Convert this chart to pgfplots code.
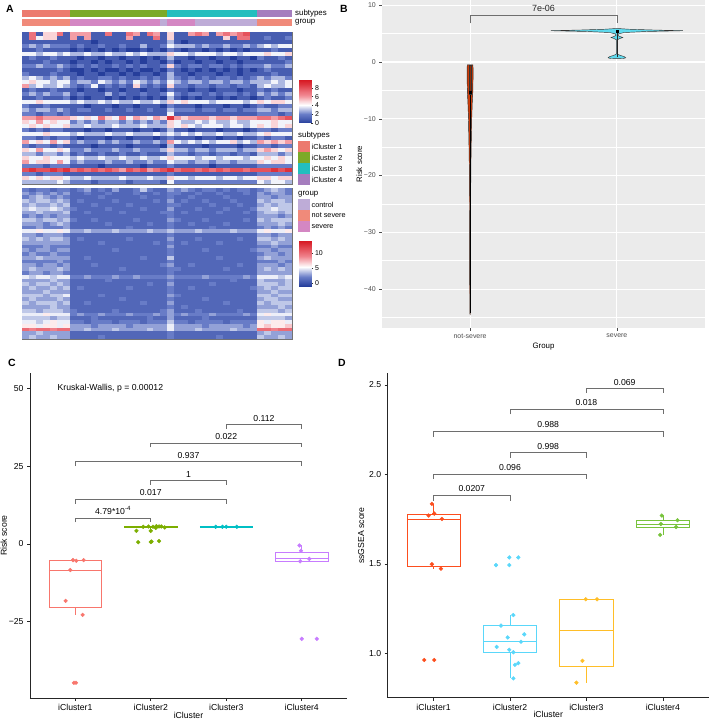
\documentclass[border=0pt]{standalone}
\usepackage{fontspec}
\setmainfont{Liberation Sans}
\usepackage{pgfplots}
\pgfplotsset{compat=1.18}
\usepgfplotslibrary{statistics}
\usepackage{pgfplotstable}

\definecolor{cA1}{RGB}{236,122,110}
\definecolor{cA2}{RGB}{124,170,40}
\definecolor{cA3}{RGB}{35,190,190}
\definecolor{cA4}{RGB}{165,125,190}
\definecolor{gCtrl}{RGB}{190,172,215}
\definecolor{gNot}{RGB}{240,138,122}
\definecolor{gSev}{RGB}{212,135,195}
\definecolor{ggbg}{RGB}{235,235,235}
\definecolor{ggtxt}{RGB}{77,77,77}
\definecolor{nsfill}{RGB}{205,60,10}
\definecolor{sfill}{RGB}{95,218,238}
\definecolor{cC1}{RGB}{248,118,109}
\definecolor{cC2}{RGB}{124,174,0}
\definecolor{cC3}{RGB}{0,191,196}
\definecolor{cC4}{RGB}{199,124,255}
\definecolor{cD1}{RGB}{252,78,30}
\definecolor{cD2}{RGB}{90,215,250}
\definecolor{cD3}{RGB}{255,190,40}
\definecolor{cD4}{RGB}{120,195,60}
\definecolor{brk}{RGB}{110,110,110}

\pgfplotsset{
  /pgf/number format/assume math mode=true,
  colormap={hm}{rgb255(0cm)=(38,62,155); rgb255(2cm)=(105,125,200); rgb255(4.2cm)=(255,255,255); rgb255(6.5cm)=(240,130,140); rgb255(9.8cm)=(215,25,35)}
}

\newcommand\fA{\fontsize{7.3}{8}\selectfont}
\newcommand\fT{\fontsize{7.9}{9}\selectfont}
\newcommand\fB{\fontsize{7}{8}\selectfont}
\newcommand\fC{\fontsize{8.7}{10}\selectfont}
\newcommand\fL{\fontsize{10.5}{12}\selectfont\bfseries}

\pgfdeclareplotmark{cellA}{\pgfpathrectangle{\pgfpoint{-3.55bp}{-2.08bp}}{\pgfpoint{7.1bp}{4.16bp}}\pgfusepathqfill}
\pgfdeclareplotmark{cellB}{\pgfpathrectangle{\pgfpoint{-3.55bp}{-1.95bp}}{\pgfpoint{7.1bp}{3.9bp}}\pgfusepathqfill}

\pgfplotstableread[header=false]{
1 7 1 5 5 7 1  6 6 6 1 1 7 1 1 7 6 1 7 6 1  5 1 1 6 7 6 1 6 7 6 7 8 1  1 1 1 1 1
1 7 4 5 5 1 1  6 1 6 1 1 1 1 1 6 1 1 1 7 1  5 1 1 1 1 1 1 1 5 1 7 7 1  1 2 1 1 2
1 1 1 1 1 1 1  1 1 1 0 1 1 1 1 1 1 1 1 1 1  3 1 0 1 1 1 1 1 1 1 1 1 1  1 1 1 1 1
2 3 2 3 2 2 2  1 2 1 1 2 1 1 2 1 1 3 1 1 2  4 3 3 3 2 3 2 2 3 2 2 3 2  3 4 3 4 4
1 1 2 1 1 1 1  0 1 0 1 0 1 0 1 0 0 1 0 1 0  2 1 0 1 1 0 1 0 1 0 1 0 1  1 1 2 1 1
4 4 3 4 4 3 4  3 3 4 3 3 4 3 3 4 3 4 3 3 3  5 4 4 3 4 4 4 3 4 4 3 4 4  4 5 4 4 5
1 2 1 1 2 1 1  1 0 1 1 0 1 1 0 1 1 0 1 0 1  3 1 1 0 1 1 0 1 1 0 1 1 0  2 1 1 2 1
1 1 1 2 1 1 1  0 1 1 0 1 0 1 1 0 1 0 1 1 0  2 0 1 1 0 1 1 0 1 1 0 1 1  1 1 1 1 2
2 2 3 2 2 3 2  1 2 1 2 1 1 2 1 2 1 2 1 1 2  5 2 1 2 2 1 2 2 1 2 1 2 2  2 3 2 2 3
1 1 1 1 1 2 1  0 0 1 0 1 0 0 1 0 1 0 0 1 0  2 1 0 1 0 1 0 1 0 1 0 1 0  1 2 1 1 1
2 1 1 1 2 1 1  1 0 1 1 0 1 1 0 1 0 1 1 0 1  3 1 1 0 1 1 1 0 1 1 0 1 1  1 1 2 1 1
3 4 3 2 3 2 3  1 2 1 1 2 2 1 2 1 1 2 1 2 1  3 2 1 2 1 2 1 2 2 1 2 1 2  3 2 3 3 2
4 5 4 4 3 4 4  2 3 3 2 4 3 2 3 2 4 3 2 3 2  4 3 2 3 3 2 3 3 2 3 3 2 3  3 3 4 3 4
6 3 4 3 3 4 3  2 1 2 4 1 2 1 2 1 5 2 1 2 1  5 2 2 1 2 2 1 2 2 1 2 2 1  3 4 3 3 4
1 2 1 1 2 1 1  1 0 1 1 0 1 1 0 1 1 0 1 1 0  2 1 1 0 1 1 0 1 1 1 0 1 1  2 1 2 1 1
2 3 2 3 2 2 3  1 2 1 1 1 3 1 2 1 1 2 1 1 2  4 2 1 2 2 1 2 1 2 2 1 2 1  3 2 3 2 3
1 1 2 1 1 1 2  0 1 0 1 1 0 1 0 1 0 1 0 1 0  3 1 0 1 0 1 1 0 1 0 1 1 0  1 2 1 1 2
4 4 5 4 4 4 4  3 4 3 3 4 3 4 3 3 4 3 3 4 3  5 4 5 4 4 4 3 4 4 4 4 3 4  5 4 5 5 4
2 1 1 2 1 1 1  1 1 0 1 1 1 0 1 1 0 1 1 1 0  2 1 1 1 0 1 1 1 0 1 1 0 1  2 1 1 2 2
3 2 3 3 2 3 2  1 2 2 1 1 2 1 1 2 1 1 2 1 1  3 2 2 2 1 2 2 1 2 2 1 2 2  3 3 2 3 3
2 2 1 2 2 1 2  1 1 1 1 1 1 1 1 1 1 1 1 1 1  4 1 1 1 1 1 1 1 1 1 1 1 1  2 2 2 1 2
6 6 7 6 6 6 6  5 4 5 4 7 5 4 7 4 6 5 4 6 5  9 6 5 6 6 6 5 6 6 5 6 6 6  7 7 6 7 8
5 4 6 4 5 4 4  2 3 2 3 2 3 3 2 3 2 3 2 3 2  5 4 3 3 4 3 4 3 3 4 3 3 4  4 4 5 4 4
4 5 4 5 4 4 5  3 3 4 3 3 3 4 3 3 3 4 3 3 3  5 4 5 4 3 4 4 4 3 4 4 3 4  5 4 5 4 5
2 1 2 1 2 2 1  1 1 0 1 1 0 1 1 1 0 1 1 0 1  3 1 1 0 1 1 1 0 1 1 1 0 1  2 2 1 2 2
4 4 4 5 4 4 4  3 4 3 3 3 4 3 3 4 3 3 3 4 3  4 3 4 3 4 3 3 4 3 3 4 3 3  4 5 4 4 4
2 2 1 2 1 2 2  1 0 1 1 1 0 1 1 0 1 1 1 0 1  2 1 1 1 0 1 1 0 1 1 0 1 1  2 1 2 2 1
6 4 5 4 6 4 5  2 3 2 2 3 2 3 2 2 3 2 2 3 2  6 4 3 4 3 4 3 4 4 5 3 4 3  6 5 6 5 6
2 1 2 2 1 2 1  1 1 1 0 1 1 1 1 0 1 1 1 1 0  3 1 1 1 1 0 1 1 1 1 0 1 1  2 2 1 2 2
5 4 6 4 4 5 4  2 2 3 2 2 2 3 2 2 3 2 2 2 3  5 3 3 2 3 3 2 3 3 3 2 3 3  5 6 5 4 5
3 3 2 3 3 2 3  1 2 1 1 2 1 1 2 1 1 2 1 1 1  3 2 2 1 2 2 1 2 2 1 2 2 1  3 3 3 2 3
5 4 4 5 4 4 4  3 4 3 3 4 3 3 4 3 3 4 3 3 4  5 4 4 4 3 4 4 3 4 4 4 3 4  4 5 4 5 4
6 4 5 5 4 6 4  2 3 2 2 2 3 2 2 3 2 2 3 2 2  4 3 3 2 3 3 2 3 3 2 3 3 3  5 4 5 5 4
2 2 2 1 2 2 2  1 1 1 1 0 1 1 1 1 1 0 1 1 1  2 1 1 1 1 1 0 1 1 1 1 1 1  2 2 2 2 2
8 9 8 8 9 8 9  7 8 7 8 7 8 7 6 8 7 8 6 7 8  9 7 8 8 7 8 7 8 7 8 8 7 8  8 8 9 8 9
2 2 1 2 2 2 1  1 1 1 1 1 1 1 1 1 1 1 1 1 1  2 1 1 1 1 1 1 1 1 1 1 1 1  2 2 2 2 2
5 4 5 4 5 5 4  3 3 4 3 3 3 3 4 3 3 3 4 3 3  5 4 4 3 4 4 4 3 4 4 3 4 4  5 5 4 5 5
3 3 3 3 3 4 3  2 2 2 1 2 2 2 2 1 2 2 2 2 1  4 2 2 2 2 2 2 2 2 2 2 2 2  4 3 4 4 3
}\topdata

\pgfplotstableread[header=false]{
2 1 2 2 1 2 2  1 2 3 1 2 1 3 1 1 2 4 2 1 1  3 2 3 2 1 2 2 1 2 1 2 2 1  2 3 4 3 2
3 2 3 2 3 2 3  1 1 2 1 1 2 1 1 1 2 1 1 2 1  2 2 1 1 2 1 1 2 1 1 1 2 1  3 2 3 3 2
2 3 4 3 2 3 2  1 1 1 1 2 1 1 1 1 1 2 1 1 1  2 1 1 2 1 1 1 1 2 1 1 1 1  3 3 2 3 3
4 3 4 4 3 4 3  1 2 1 1 1 1 2 1 1 1 1 1 2 1  3 1 2 1 1 2 1 1 1 2 1 1 1  4 3 4 4 3
3 4 3 3 4 3 4  1 1 1 2 1 1 1 1 2 1 1 1 1 1  2 2 1 1 1 1 2 1 1 1 2 1 1  3 4 3 4 4
4 5 4 4 5 4 3  2 1 1 1 1 2 1 1 1 1 2 1 1 1  3 1 1 1 2 1 1 1 2 1 1 1 2  4 4 5 4 4
3 3 4 3 3 3 4  1 1 2 1 1 1 1 2 1 1 1 1 1 2  2 1 2 1 1 1 1 2 1 1 1 2 1  3 4 4 3 4
2 3 2 3 2 3 3  1 1 1 1 1 1 1 1 1 1 1 1 1 1  2 1 1 1 1 1 1 1 1 1 1 1 1  3 3 3 2 3
4 4 3 4 4 3 4  2 1 1 2 1 1 1 1 1 2 1 1 1 1  3 2 1 1 1 2 1 1 1 1 1 2 1  4 3 4 4 4
3 3 3 2 3 4 3  1 1 1 1 1 2 1 1 1 1 1 2 1 1  2 1 1 2 1 1 1 1 2 1 1 1 1  3 3 3 4 3
2 2 3 2 2 2 3  1 1 1 1 1 1 1 1 2 1 1 1 1 1  2 1 1 1 1 1 2 1 1 1 1 1 1  2 3 2 3 2
5 5 6 5 5 6 5  3 3 4 3 3 3 4 3 3 3 3 4 3 3  4 3 3 3 4 3 3 3 3 4 3 3 3  5 6 5 5 6
3 3 2 3 3 3 2  1 1 1 1 1 1 1 1 1 1 1 1 1 1  2 1 1 1 1 1 1 1 1 1 1 1 1  3 3 2 3 3
4 3 4 3 4 4 3  1 2 1 1 1 1 1 1 2 1 1 1 1 1  3 1 1 1 2 1 1 1 1 1 2 1 1  4 4 3 4 3
3 3 3 3 3 3 3  1 1 1 1 2 1 1 1 1 1 1 1 2 1  2 1 2 1 1 1 1 2 1 1 1 1 1  3 3 4 3 3
2 2 2 3 2 2 2  1 1 1 1 1 1 1 1 1 1 1 1 1 1  3 1 1 1 1 1 1 1 1 1 1 1 1  2 2 3 2 2
3 2 3 3 2 3 3  1 1 1 1 1 1 2 1 1 1 1 1 1 1  2 1 1 1 1 2 1 1 1 1 1 1 2  3 3 2 3 3
2 3 2 2 3 2 2  1 1 1 1 1 1 1 1 1 1 1 1 1 1  2 1 1 1 1 1 1 1 1 1 1 1 1  2 3 3 2 3
3 3 4 3 3 3 3  1 1 2 1 1 1 1 1 1 1 2 1 1 1  4 1 1 1 1 1 1 2 1 1 1 1 1  3 4 3 3 3
2 2 2 2 2 3 2  1 1 1 1 1 1 1 1 1 1 1 1 1 1  2 1 1 1 1 1 1 1 1 1 1 1 1  2 2 2 3 2
3 3 2 3 3 2 3  1 1 1 2 1 1 1 1 1 1 1 1 1 2  3 1 1 2 1 1 1 1 1 1 2 1 1  3 3 3 2 3
3 4 3 3 3 4 3  1 1 1 1 1 1 1 2 1 1 1 1 1 1  2 2 1 1 1 1 1 1 2 1 1 1 1  3 4 3 4 3
2 3 3 2 3 3 2  1 1 1 1 1 1 1 1 1 1 1 1 1 1  2 1 1 1 1 1 1 1 1 1 1 1 1  3 3 3 3 3
5 4 5 5 4 5 5  2 2 3 2 2 2 3 2 2 3 2 2 2 2  3 2 2 2 2 3 2 2 2 2 2 3 2  5 5 5 4 5
3 3 3 3 4 3 3  1 1 1 1 1 2 1 1 1 1 1 1 1 1  2 1 1 1 1 1 1 1 1 2 1 1 1  4 3 3 3 4
4 3 4 4 3 4 3  1 1 1 1 1 1 1 1 1 1 1 2 1 1  3 1 1 1 1 1 2 1 1 1 1 1 1  4 4 4 3 4
3 4 3 3 4 3 4  1 2 1 1 1 1 1 1 2 1 1 1 1 1  2 1 1 2 1 1 1 1 1 1 1 1 2  3 4 3 4 4
3 3 3 4 3 3 3  1 1 1 1 1 1 1 1 1 1 1 1 1 1  2 1 1 1 1 1 1 1 1 1 1 1 1  3 3 4 3 3
4 4 4 3 4 4 5  1 1 1 1 2 1 1 1 1 1 1 1 1 1  3 2 1 1 1 1 1 1 1 1 1 1 1  4 4 3 4 4
3 4 3 3 3 4 3  1 1 1 1 1 1 1 2 1 1 1 1 1 1  2 1 1 1 1 2 1 1 1 1 1 1 1  3 4 4 3 3
4 3 4 4 4 3 4  1 1 2 1 1 1 1 1 1 1 2 1 1 1  3 1 1 1 1 1 1 1 2 1 1 1 1  4 3 4 4 4
3 3 3 3 4 3 3  1 1 1 1 1 1 1 1 1 1 1 1 1 1  2 1 2 1 1 1 1 1 1 1 1 1 1  3 3 3 4 3
4 4 3 4 4 4 3  2 1 1 1 1 1 2 1 1 1 1 1 1 2  3 1 1 1 2 1 1 1 1 1 2 1 1  4 4 4 3 4
5 5 5 6 5 5 5  2 3 2 2 3 2 2 2 3 2 2 2 3 2  3 2 3 2 2 2 3 2 2 2 2 3 2  5 6 5 5 5
4 4 4 4 3 4 4  1 1 1 2 1 1 1 1 1 1 1 2 1 1  3 1 1 1 1 2 1 1 1 1 1 1 1  4 4 4 4 3
5 5 4 5 6 5 5  2 2 1 2 2 2 1 2 2 2 1 2 2 2  4 2 2 1 2 2 2 2 1 2 2 2 2  6 5 6 6 5
6 6 5 6 6 5 6  3 3 3 2 3 3 3 3 2 3 3 3 3 3  5 3 3 3 3 2 3 3 3 3 3 2 3  6 7 6 6 7
10 9 10 10 9 10 10  3 3 4 3 3 3 4 3 3 3 3 4 3 3  5 3 3 3 4 3 3 3 3 4 3 3 3  10 10 9 10 10
3 3 4 3 3 3 3  1 1 1 1 1 1 1 1 1 1 1 1 1 1  2 1 1 1 1 1 1 1 1 1 1 1 1  3 4 3 3 3
3 4 3 3 4 3 3  1 1 1 1 2 1 1 1 1 1 1 1 1 1  2 1 1 1 1 1 1 2 1 1 1 1 1  4 3 3 4 3
}\botdata

\begin{document}
\begin{tikzpicture}
\path[use as bounding box] (0,0) rectangle (709bp,-719bp);

% ---------------- Panel A : top heatmap ----------------
\begin{axis}[at={(22bp,-32bp)}, anchor=north west, scale only axis,
  width=270bp, height=152bp, xmin=-0.5, xmax=38.5, ymin=-0.5, ymax=37.5,
  y dir=reverse, xtick=\empty, ytick=\empty, clip=false, axis on top,
  axis line style={draw=black!55, line width=0.8bp},
  colormap name=hm, point meta min=0, point meta max=9.8]
\pgfplotsinvokeforeach{0,...,38}{
  \addplot[scatter, only marks, mark=cellA, scatter src=explicit,
    scatter/use mapped color={draw=mapped color, fill=mapped color}]
    table[x expr=#1, y expr=\coordindex, meta index=#1] {\topdata};
}
\draw[black, line width=0.6bp] (axis cs:6.5,-0.5) -- (axis cs:6.5,37.5)
  (axis cs:20.5,-0.5) -- (axis cs:20.5,37.5) (axis cs:33.5,-0.5) -- (axis cs:33.5,37.5);
% annotation bars
\fill[cA1] (axis cs:-0.5,-6) rectangle (axis cs:6.5,-4.25);
\fill[cA2] (axis cs:6.5,-6) rectangle (axis cs:20.5,-4.25);
\fill[cA3] (axis cs:20.5,-6) rectangle (axis cs:33.5,-4.25);
\fill[cA4] (axis cs:33.5,-6) rectangle (axis cs:38.5,-4.25);
\fill[gNot] (axis cs:-0.5,-3.75) rectangle (axis cs:6.5,-2);
\fill[gSev] (axis cs:6.5,-3.75) rectangle (axis cs:19.5,-2);
\fill[gCtrl] (axis cs:19.5,-3.75) rectangle (axis cs:20.5,-2);
\fill[gSev] (axis cs:20.5,-3.75) rectangle (axis cs:24.5,-2);
\fill[gCtrl] (axis cs:24.5,-3.75) rectangle (axis cs:33.5,-2);
\fill[gNot] (axis cs:33.5,-3.75) rectangle (axis cs:38.5,-2);
\end{axis}

% ---------------- Panel A : bottom heatmap ----------------
\begin{axis}[at={(22bp,-188bp)}, anchor=north west, scale only axis,
  width=270bp, height=151bp, xmin=-0.5, xmax=38.5, ymin=-0.5, ymax=39.5,
  y dir=reverse, xtick=\empty, ytick=\empty, clip=false, axis on top,
  axis line style={draw=black!55, line width=0.8bp},
  colormap name=hm, point meta min=-1, point meta max=14]
\pgfplotsinvokeforeach{0,...,38}{
  \addplot[scatter, only marks, mark=cellB, scatter src=explicit,
    scatter/use mapped color={draw=mapped color, fill=mapped color}]
    table[x expr=#1, y expr=\coordindex, meta index=#1] {\botdata};
}
\draw[black, line width=0.6bp] (axis cs:6.5,-0.5) -- (axis cs:6.5,39.5)
  (axis cs:20.5,-0.5) -- (axis cs:20.5,39.5) (axis cs:33.5,-0.5) -- (axis cs:33.5,39.5);
\end{axis}

% colorbar 1
\begin{axis}[at={(299bp,-80bp)}, anchor=north west, scale only axis,
  width=12bp, height=43bp, xmin=0, xmax=1, ymin=0, ymax=9.8,
  axis line style={draw=none}, xtick=\empty, ytick={0,2,4,6,8}, yticklabels={0,2,4,6,8},
  ytick pos=right, yticklabel pos=right, tick align=outside, major tick length=2bp,
  tick style={black!80, line width=0.4bp}, yticklabel style={font=\fB, xshift=-1.5bp},
  colormap name=hm, point meta min=0, point meta max=9.8]
\addplot[surf, shader=interp, mesh/cols=2, point meta=y] coordinates {
(0,0) (1,0) (0,1) (1,1) (0,2) (1,2) (0,3) (1,3) (0,4.2) (1,4.2) (0,5) (1,5)
(0,6) (1,6) (0,7) (1,7) (0,8) (1,8) (0,9) (1,9) (0,9.8) (1,9.8)};
\end{axis}

% colorbar 2
\begin{axis}[at={(298.5bp,-241bp)}, anchor=north west, scale only axis,
  width=12.5bp, height=45bp, xmin=0, xmax=1, ymin=-1, ymax=14,
  axis line style={draw=none}, xtick=\empty, ytick={0,5,10}, yticklabels={0,5,10},
  ytick pos=right, yticklabel pos=right, tick align=outside, major tick length=2bp,
  tick style={black!80, line width=0.4bp}, yticklabel style={font=\fB, xshift=-1.5bp},
  colormap name=hm, point meta min=-1, point meta max=14]
\addplot[surf, shader=interp, mesh/cols=2, point meta=y] coordinates {
(0,-1) (1,-1) (0,1) (1,1) (0,3) (1,3) (0,5.4) (1,5.4) (0,7) (1,7)
(0,9) (1,9) (0,11) (1,11) (0,14) (1,14)};
\end{axis}

\begin{scope}[x=1bp,y=-1bp]
\node[font=\fL, anchor=center] at (10,8.5) {A};
\node[font=\fL, anchor=center] at (344,8.5) {B};
\node[font=\fL, anchor=center] at (12,363) {C};
\node[font=\fL, anchor=center] at (342,363) {D};
\node[font=\fT, anchor=west, inner sep=0pt] at (295,13.5) {subtypes};
\node[font=\fT, anchor=west, inner sep=0pt] at (295,22.5) {group};
% subtypes legend
\node[font=\fT, anchor=west, inner sep=0pt] at (298,135) {subtypes};
\fill[cA1] (298.3,141) rectangle (309.5,152);
\fill[cA2] (298.3,152) rectangle (309.5,163);
\fill[cA3] (298.3,163) rectangle (309.5,174);
\fill[cA4] (298.3,174) rectangle (309.5,185);
\node[font=\fA, anchor=west, inner sep=0pt] at (311.5,146.5) {iCluster 1};
\node[font=\fA, anchor=west, inner sep=0pt] at (311.5,157.5) {iCluster 2};
\node[font=\fA, anchor=west, inner sep=0pt] at (311.5,168.5) {iCluster 3};
\node[font=\fA, anchor=west, inner sep=0pt] at (311.5,179.5) {iCluster 4};
% group legend
\node[font=\fT, anchor=west, inner sep=0pt] at (298,194) {group};
\fill[gCtrl] (298.3,199) rectangle (309.5,210);
\fill[gNot] (298.3,210) rectangle (309.5,221);
\fill[gSev] (298.3,221) rectangle (309.5,232);
\node[font=\fA, anchor=west, inner sep=0pt] at (311.5,204.5) {control};
\node[font=\fA, anchor=west, inner sep=0pt] at (311.5,215.5) {not severe};
\node[font=\fA, anchor=west, inner sep=0pt] at (311.5,226.5) {severe};
\end{scope}

% ---------------- Panel B : violin ----------------
\begin{axis}[at={(382bp,0bp)}, anchor=north west, scale only axis,
  width=323bp, height=328bp, xmin=0.4, xmax=2.6, ymin=-46.86, ymax=10.93,
  axis background/.style={fill=ggbg}, axis line style={draw=none},
  xtick={1,2}, xticklabels={not-severe,severe},
  ytick={-40,-30,-20,-10,0,10}, yticklabels={−40,−30,−20,−10,0,10},
  minor ytick={-45,-35,-25,-15,-5,5},
  grid=both, major grid style={white, line width=1.1bp}, minor grid style={white, line width=0.55bp},
  tick pos=left, tick align=outside, major tick length=2.7bp, minor tick length=0pt,
  tick style={ggtxt, line width=0.5bp},
  ticklabel style={font=\fB, text=ggtxt},
  xlabel={Group}, ylabel={Risk score}, label style={font=\fT},
  xlabel style={yshift=3bp}, ylabel style={yshift=-5bp}, clip=false]
% not-severe violin
\addplot[fill=nsfill, draw=black!85, line width=0.45bp] coordinates {
(1,-44.6) (1.002,-44) (1.003,-35) (1.004,-25) (1.005,-19) (1.008,-14) (1.011,-10)
(1.015,-7) (1.019,-5) (1.02,-3) (1.02,-1) (1.019,-0.5)
(0.981,-0.5) (0.98,-1) (0.98,-3) (0.981,-5) (0.985,-7) (0.989,-10) (0.992,-14)
(0.995,-19) (0.996,-25) (0.997,-35) (0.998,-44) (1,-44.6)};
\addplot[black, line width=0.5bp] coordinates {(1,-44.2) (1,-5.4)};
\addplot[draw=black!80, fill=nsfill!70!black, line width=0.4bp] coordinates {
(0.994,-5.6) (1.006,-5.6) (1.006,-0.6) (0.994,-0.6) (0.994,-5.6)};
\addplot[only marks, mark=square*, mark size=0.9bp, black] coordinates {(1,-5.3)};
% severe violin
\addplot[fill=sfill, draw=black!80, line width=0.45bp] coordinates {
(2,0.6) (2.045,0.63) (2.06,0.75) (2.05,0.95) (2.025,1.15) (2.006,1.35) (2.002,1.6)
(2.002,3.9) (2.02,4.15) (2.04,4.32) (2.02,4.5) (2.006,4.7) (2.01,4.95)
(2.05,5.2) (2.2,5.38) (2.45,5.52) (2.25,5.64) (2.08,5.78) (2.0,5.92)
(1.92,5.78) (1.75,5.64) (1.55,5.52) (1.8,5.38) (1.95,5.2) (1.99,4.95)
(1.994,4.7) (1.98,4.5) (1.96,4.32) (1.98,4.15) (1.998,3.9) (1.998,1.6)
(1.994,1.35) (1.975,1.15) (1.95,0.95) (1.94,0.75) (1.955,0.63) (2,0.6)};
\addplot[black!85, line width=0.5bp] coordinates {(2,0.8) (2,5.3)};
\addplot[only marks, mark=square*, mark size=1bp, black] coordinates {(2,5.5)};
% bracket
\addplot[brk, line width=0.6bp] coordinates {(1,6.8) (1,8.3) (2,8.3) (2,6.8)};
\node[font=\fontsize{9}{10}\selectfont, text=black!85] at (axis cs:1.5,9.4) {7e-06};
\end{axis}

% ---------------- Panel C : boxplot ----------------
\begin{axis}[at={(30bp,-373bp)}, anchor=north west, scale only axis,
  width=317bp, height=325bp, xmin=0.4, xmax=4.6, ymin=-49.5, ymax=54.9,
  boxplot/draw direction=y,
  axis x line=bottom, axis y line=left, axis line style={-, line width=0.6bp, black!85},
  xtick={1,2,3,4}, xticklabels={iCluster1,iCluster2,iCluster3,iCluster4},
  ytick={-25,0,25,50}, yticklabels={−25,0,25,50},
  tick align=outside, major tick length=3bp, tick style={black!85, line width=0.6bp},
  ticklabel style={font=\fC}, xlabel={iCluster}, ylabel={Risk score}, label style={font=\fC},
  xlabel style={yshift=6bp}, ylabel style={yshift=-5bp}, clip=false]
\addplot[cC1, line width=0.6bp, boxplot prepared={draw position=1, lower whisker=-22.8, lower quartile=-20.5, median=-8.4, upper quartile=-5.2, upper whisker=-5.2, box extend=0.7, whisker extend=0}] coordinates {};
\addplot[cC2, line width=0.6bp, boxplot prepared={draw position=2, lower whisker=5.1, lower quartile=5.25, median=5.45, upper quartile=5.6, upper whisker=5.7, box extend=0.7, whisker extend=0}] coordinates {};
\addplot[cC3, line width=0.6bp, boxplot prepared={draw position=3, lower whisker=5.45, lower quartile=5.45, median=5.5, upper quartile=5.55, upper whisker=5.55, box extend=0.7, whisker extend=0}] coordinates {};
\addplot[cC4, line width=0.6bp, boxplot prepared={draw position=4, lower whisker=-5.6, lower quartile=-5.5, median=-4.7, upper quartile=-2.6, upper whisker=-0.5, box extend=0.7, whisker extend=0}] coordinates {};
\addplot[only marks, mark=*, mark size=1.9bp, cC1] coordinates {
(0.97,-5.2) (1.013,-5.4) (1.11,-5.2) (0.934,-8.4) (0.872,-18.3) (1.097,-22.8) (0.982,-44.6) (1.009,-44.6)};
\addplot[only marks, mark=*, mark size=1.9bp, cC2] coordinates {
(1.90,5.5) (1.97,5.6) (2.03,5.5) (2.075,5.7) (2.11,5.6) (2.14,5.6) (2.185,5.3) (1.81,4.2)
(2.0,4.2) (2.066,5.1) (1.833,0.55) (2.0,0.6) (2.01,0.75) (2.11,0.9)};
\addplot[only marks, mark=*, mark size=1.9bp, cC3] coordinates {
(2.86,5.5) (2.95,5.5) (3.0,5.5) (3.14,5.5)};
\addplot[only marks, mark=*, mark size=1.9bp, cC4] coordinates {
(3.97,-0.5) (3.99,-2.2) (3.98,-5.6) (4.10,-4.8) (4.0,-30.5) (4.20,-30.5)};
% brackets
\addplot[brk, line width=0.6bp] coordinates {(1,6.9) (1,8.3) (2,8.3) (2,6.9)};
\addplot[brk, line width=0.6bp] coordinates {(1,12.9) (1,14.4) (3,14.4) (3,12.9)};
\addplot[brk, line width=0.6bp] coordinates {(2,19) (2,20.4) (3,20.4) (3,19)};
\addplot[brk, line width=0.6bp] coordinates {(1,25) (1,26.5) (4,26.5) (4,25)};
\addplot[brk, line width=0.6bp] coordinates {(2,31) (2,32.4) (4,32.4) (4,31)};
\addplot[brk, line width=0.6bp] coordinates {(3,37) (3,38.5) (4,38.5) (4,37)};
\node[font=\fC] at (axis cs:1.5,10.7) {4.79*10\textsuperscript{-4}};
\node[font=\fC] at (axis cs:2,16.4) {0.017};
\node[font=\fC] at (axis cs:2.5,22.4) {1};
\node[font=\fC] at (axis cs:2.5,28.4) {0.937};
\node[font=\fC] at (axis cs:3,34.4) {0.022};
\node[font=\fC] at (axis cs:3.5,40.4) {0.112};
\node[font=\fC, anchor=west] at (axis cs:0.72,50) {Kruskal-Wallis, p = 0.00012};
\end{axis}

% ---------------- Panel D : boxplot ----------------
\begin{axis}[at={(387.7bp,-373.3bp)}, anchor=north west, scale only axis,
  width=321bp, height=324.4bp, xmin=0.4, xmax=4.6, ymin=0.752, ymax=2.565,
  boxplot/draw direction=y,
  axis x line=bottom, axis y line=left, axis line style={-, line width=0.6bp, black!85},
  xtick={1,2,3,4}, xticklabels={iCluster1,iCluster2,iCluster3,iCluster4},
  ytick={1,1.5,2,2.5}, yticklabels={1.0,1.5,2.0,2.5},
  tick align=outside, major tick length=3bp, tick style={black!85, line width=0.6bp},
  ticklabel style={font=\fC}, xlabel={iCluster}, ylabel={ssGSEA score}, label style={font=\fC},
  xlabel style={yshift=6bp}, ylabel style={yshift=-2bp}, clip=false]
\addplot[cD1, line width=0.6bp, boxplot prepared={draw position=1, lower whisker=1.473, lower quartile=1.484, median=1.751, upper quartile=1.777, upper whisker=1.835, box extend=0.7, whisker extend=0}] coordinates {};
\addplot[cD2, line width=0.6bp, boxplot prepared={draw position=2, lower whisker=0.86, lower quartile=1.006, median=1.065, upper quartile=1.155, upper whisker=1.214, box extend=0.7, whisker extend=0}] coordinates {};
\addplot[cD3, line width=0.6bp, boxplot prepared={draw position=3, lower whisker=0.836, lower quartile=0.929, median=1.130, upper quartile=1.302, upper whisker=1.302, box extend=0.7, whisker extend=0}] coordinates {};
\addplot[cD4, line width=0.6bp, boxplot prepared={draw position=4, lower whisker=1.662, lower quartile=1.703, median=1.723, upper quartile=1.744, upper whisker=1.770, box extend=0.7, whisker extend=0}] coordinates {};
\addplot[only marks, mark=*, mark size=1.9bp, cD1] coordinates {
(0.978,1.835) (0.935,1.770) (1.009,1.781) (1.109,1.751) (0.978,1.498) (1.096,1.473) (0.878,0.963) (1.009,0.963)};
\addplot[only marks, mark=*, mark size=1.9bp, cD2] coordinates {
(1.882,1.155) (1.970,1.089) (2.044,1.214) (2.187,1.106) (2.144,1.065) (1.826,1.036) (1.991,1.020)
(2.044,1.006) (2.065,0.936) (2.109,0.945) (2.044,0.860) (1.817,1.493) (1.991,1.493) (1.991,1.536) (2.109,1.536)};
\addplot[only marks, mark=*, mark size=1.9bp, cD3] coordinates {
(2.991,1.302) (3.139,1.302) (2.948,0.958) (2.869,0.836)};
\addplot[only marks, mark=*, mark size=1.9bp, cD4] coordinates {
(3.987,1.770) (4.192,1.744) (3.974,1.723) (4.174,1.706) (3.965,1.662)};
% brackets
\addplot[brk, line width=0.6bp] coordinates {(1,1.853) (1,1.885) (2,1.885) (2,1.853)};
\addplot[brk, line width=0.6bp] coordinates {(1,1.975) (1,2.003) (3,2.003) (3,1.975)};
\addplot[brk, line width=0.6bp] coordinates {(2,2.094) (2,2.122) (3,2.122) (3,2.094)};
\addplot[brk, line width=0.6bp] coordinates {(1,2.211) (1,2.243) (4,2.243) (4,2.211)};
\addplot[brk, line width=0.6bp] coordinates {(2,2.335) (2,2.365) (4,2.365) (4,2.335)};
\addplot[brk, line width=0.6bp] coordinates {(3,2.454) (3,2.482) (4,2.482) (4,2.454)};
\node[font=\fC] at (axis cs:1.5,1.919) {0.0207};
\node[font=\fC] at (axis cs:2,2.037) {0.096};
\node[font=\fC] at (axis cs:2.5,2.156) {0.998};
\node[font=\fC] at (axis cs:2.5,2.277) {0.988};
\node[font=\fC] at (axis cs:3,2.399) {0.018};
\node[font=\fC] at (axis cs:3.5,2.516) {0.069};
\end{axis}
\end{tikzpicture}
\end{document}
